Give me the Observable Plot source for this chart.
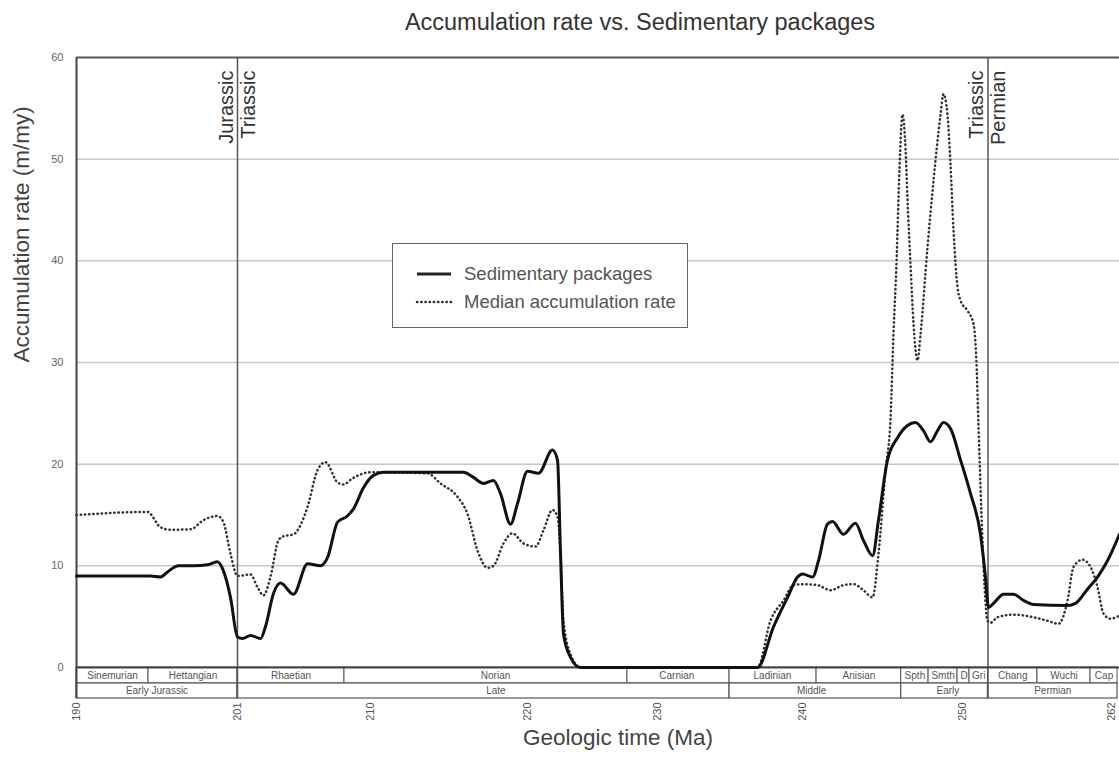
<!DOCTYPE html>
<html>
<head>
<meta charset="utf-8">
<script src="https://cdn.jsdelivr.net/npm/d3@7"></script>
<script src="https://cdn.jsdelivr.net/npm/@observablehq/plot@0.6"></script>
<style>
  body { margin: 0; background: #fff; font-family: "Liberation Sans", Arial, sans-serif; }
  #wrap { position: relative; width: 1119px; height: 757px; overflow: hidden; background: #fff; }
  #title { position: absolute; left: 161px; top: 10px; width: 958px; text-align: center; font-size: 23.5px; line-height: 24px; color: #333; }
  #chart { position: absolute; left: 0; top: 40px; }
  #legend { position: absolute; left: 392px; top: 243px; width: 294px; height: 83px; border: 1.5px solid #666; background: #fff; }
  #legend .lab { position: absolute; left: 71px; font-size: 18.5px; line-height: 24px; color: #555; white-space: nowrap; }
</style>
</head>
<body>
<div id="wrap">
  <div id="title">Accumulation rate vs. Sedimentary packages</div>
  <div id="chart"></div>
  <div id="legend">
    <svg width="294" height="83" style="position:absolute;left:0;top:0">
      <line x1="24" x2="58" y1="30" y2="30" stroke="#222" stroke-width="3"></line>
      <line x1="24" x2="58" y1="58" y2="58" stroke="#333" stroke-width="2.5" stroke-dasharray="0.4,3.8" stroke-linecap="round"></line>
    </svg>
    <div class="lab" style="top:18px">Sedimentary packages</div>
    <div class="lab" style="top:46px">Median accumulation rate</div>
  </div>
</div>
<script>
// ---- data (Ma, m/my) ----
const xTicks = [190, 201, 210, 220, 230, 240, 250, 262];
const yTicks = [0, 10, 20, 30, 40, 50, 60];

const solidMa = [190.00, 195.06, 195.74, 196.22, 196.97, 197.99, 198.95, 199.63, 200.04, 200.52, 201.00, 201.34, 201.88, 202.56, 202.89, 203.44, 203.91, 204.79, 205.74, 206.62, 207.09, 207.77, 208.44, 208.85, 209.53, 210.19, 210.83, 213.82, 215.92, 216.56, 217.20, 217.83, 218.28, 218.92, 219.36, 220.00, 220.85, 221.92, 222.31, 222.54, 222.77, 223.31, 224.08, 236.90, 238.00, 238.97, 239.66, 240.00, 240.63, 241.00, 241.56, 241.88, 242.56, 243.31, 243.81, 244.38, 244.75, 245.31, 245.94, 246.56, 247.06, 247.56, 248.00, 248.44, 248.81, 249.25, 249.88, 250.63, 251.41, 251.80, 252.04, 252.43, 253.22, 254.00, 254.78, 255.57, 258.24, 258.86, 259.80, 260.59, 261.37, 262.31];
const solidVal = [9.0, 9.0, 8.9, 9.4, 10.0, 10.0, 10.1, 10.4, 9.5, 6.9, 3.0, 2.85, 3.15, 2.85, 4.0, 7.3, 8.3, 7.2, 10.2, 10.0, 10.8, 14.3, 14.9, 15.6, 17.7, 18.9, 19.2, 19.2, 19.2, 18.7, 18.1, 18.4, 17.1, 14.1, 16.1, 19.3, 19.1, 21.4, 20.4, 11.2, 3.3, 1.0, 0, 0, 4.0, 6.9, 8.9, 9.2, 8.9, 10.5, 14.1, 14.35, 13.1, 14.2, 12.5, 11.0, 14.5, 20.4, 22.6, 23.8, 24.1, 23.3, 22.2, 23.3, 24.1, 23.5, 20.4, 17.1, 13.1, 8.9, 5.9, 6.3, 7.2, 7.2, 6.6, 6.2, 6.1, 6.3, 7.7, 8.9, 10.5, 13.1];

const medianMa = [190.00, 194.85, 195.74, 196.42, 197.79, 198.68, 199.63, 200.04, 200.52, 201.00, 201.88, 202.35, 202.76, 203.23, 203.77, 204.11, 204.79, 205.74, 206.41, 206.95, 207.77, 208.17, 208.78, 210.00, 213.63, 214.46, 215.54, 216.18, 216.82, 217.45, 217.83, 218.47, 219.04, 219.75, 220.62, 221.23, 221.92, 222.31, 222.54, 222.77, 223.31, 224.08, 236.90, 237.79, 238.69, 239.38, 240.06, 240.94, 241.75, 242.56, 243.19, 243.81, 244.38, 244.75, 245.19, 245.50, 245.69, 245.88, 246.06, 246.25, 246.44, 246.56, 246.75, 246.94, 247.19, 247.38, 247.81, 248.19, 248.63, 248.81, 249.06, 249.25, 249.44, 249.69, 249.88, 250.39, 250.86, 251.10, 251.25, 251.49, 251.73, 251.96, 252.20, 252.75, 254.00, 255.33, 256.67, 257.53, 258.24, 258.71, 259.41, 260.04, 260.59, 261.06, 261.61, 262.31];
const medianVal = [15.0, 15.3, 13.8, 13.55, 13.6, 14.5, 14.9, 14.3, 11.2, 9.0, 9.15, 7.9, 7.1, 8.9, 12.5, 12.9, 13.1, 15.8, 19.4, 20.2, 18.2, 18.0, 18.6, 19.2, 19.1, 18.1, 16.8, 15.1, 11.5, 9.8, 10.0, 12.2, 13.2, 12.2, 11.9, 13.5, 15.5, 14.8, 11.2, 4.6, 1.3, 0, 0, 4.6, 6.6, 8.1, 8.2, 8.1, 7.6, 8.1, 8.2, 7.6, 6.9, 11.2, 19.4, 24.5, 33, 40, 49, 54.4, 51, 46.2, 39.7, 33.8, 30.2, 32.8, 41.3, 47.9, 54.4, 56.4, 54.4, 49.5, 43, 37.4, 36.1, 35.1, 33.8, 29.9, 24, 15, 8, 4.6, 4.4, 4.95, 5.2, 5.0, 4.6, 4.3, 6.6, 9.9, 10.6, 9.9, 7.9, 5.3, 4.8, 5.1];

const stageNames = ["Sinemurian", "Hettangian", "Rhaetian", "Norian", "Carnian", "Ladinian", "Anisian", "Spth", "Smth", "D", "Gri", "Chang", "Wuchi", "Cap"];
const stageStart = [190, 194.92, 201, 208.24, 227.69, 234.97, 240.88, 246.17, 247.88, 249.69, 250.55, 252, 255.88, 260.04];
const stageEnd   = [194.92, 201, 208.24, 227.69, 234.97, 240.88, 246.17, 247.88, 249.69, 250.55, 252, 255.88, 260.04, 262.16];

const epochNames = ["Early Jurassic", "Late", "Middle", "Early", "Permian"];
const epochStart = [190, 201, 234.97, 246.17, 252];
const epochEnd   = [201, 234.97, 246.17, 252, 262.16];

const boundaries = [201, 252];
const leftLabels = ["Jurassic", "Triassic"];
const rightLabels = ["Triassic", "Permian"];

// ---- build tables ----
const solid = solidMa.map((x, i) => ({x, y: solidVal[i]}));
const median = medianMa.map((x, i) => ({x, y: medianVal[i]}));
const stages = stageNames.map((name, i) => ({name, x1: stageStart[i], x2: stageEnd[i]}));
const epochs = epochNames.map((name, i) => ({name, x1: epochStart[i], x2: epochEnd[i]}));
const bLeft = boundaries.map((x, i) => ({x, t: leftLabels[i]}));
const bRight = boundaries.map((x, i) => ({x, t: rightLabels[i]}));

// table rows below the zero line (in y units)
const r1Top = 0, r1Bot = -1.57, r2Bot = -3.05;

const xTickOpts = {frameAnchor: "bottom", dy: 35, rotate: -90, textAnchor: "end", lineAnchor: "middle", fontSize: 11, fill: "#555"};

const chart = Plot.plot({
  width: 1119,
  height: 717,
  marginLeft: 76,
  marginRight: 0,
  marginTop: 17,
  marginBottom: 90,
  x: {type: "linear", domain: xTicks, range: [76, 237, 370, 527, 657, 802, 962, 1115], axis: null},
  y: {type: "linear", domain: [0, 60], axis: null},
  style: {fontFamily: "'Liberation Sans', Arial, sans-serif", background: "white", overflow: "visible"},
  marks: [
    Plot.ruleY(yTicks.filter(d => d > 0 && d < 60), {stroke: "#c8c8c8", strokeWidth: 1.5}),
    Plot.rect(stages, {x1: "x1", x2: "x2", y1: r1Top, y2: r1Bot, fill: "white", stroke: "#555", strokeWidth: 1}),
    Plot.rect(epochs, {x1: "x1", x2: "x2", y1: r1Bot, y2: r2Bot, fill: "white", stroke: "#555", strokeWidth: 1.2}),
    Plot.text(stages, {x: d => (d.x1 + d.x2) / 2, y: (r1Top + r1Bot) / 2, text: "name", fontSize: 10, fill: "#555"}),
    Plot.text(epochs, {x: d => (d.x1 + d.x2) / 2, y: (r1Bot + r2Bot) / 2, text: "name", fontSize: 10, fill: "#555"}),
    Plot.ruleX(boundaries, {y1: r2Bot, y2: 60, stroke: "#555", strokeWidth: 1.5}),
    Plot.ruleX([190], {y1: r2Bot, y2: 60, stroke: "#444", strokeWidth: 2}),
    Plot.ruleY([60], {stroke: "#555", strokeWidth: 2}),
    Plot.ruleY([0], {stroke: "#444", strokeWidth: 2}),
    Plot.text(bLeft, {x: "x", text: "t", frameAnchor: "top", dy: 13, dx: -11, rotate: -90, textAnchor: "end", lineAnchor: "middle", fontSize: 20, fill: "#333"}),
    Plot.text(bRight, {x: "x", text: "t", frameAnchor: "top", dy: 13, dx: 11, rotate: -90, textAnchor: "end", lineAnchor: "middle", fontSize: 20, fill: "#333"}),
    Plot.line(median, {x: "x", y: "y", curve: "monotone-x", stroke: "#333", strokeWidth: 2.5, strokeDasharray: "0.4,3.8", strokeLinecap: "round"}),
    Plot.line(solid, {x: "x", y: "y", curve: "monotone-x", stroke: "#111", strokeWidth: 3}),
    Plot.text(yTicks, {y: d => d, text: d => String(d), frameAnchor: "left", dx: -13, textAnchor: "end", fontSize: 11, fill: "#666"}),
    Plot.text(xTicks.slice(0, -1), {x: d => d, text: d => String(d), ...xTickOpts}),
    Plot.text(xTicks.slice(-1), {x: d => d, text: d => String(d), ...xTickOpts, dx: -4}),
    Plot.text(["Geologic time (Ma)"], {text: d => d, frameAnchor: "bottom", dy: 77, dx: 20, fontSize: 22.5, fill: "#444"}),
    Plot.text(["Accumulation rate (m/my)"], {text: d => d, frameAnchor: "left", dx: -55, rotate: -90, fontSize: 22.5, fill: "#444"})
  ]
});
document.getElementById("chart").appendChild(chart);
</script>
</body>
</html>
